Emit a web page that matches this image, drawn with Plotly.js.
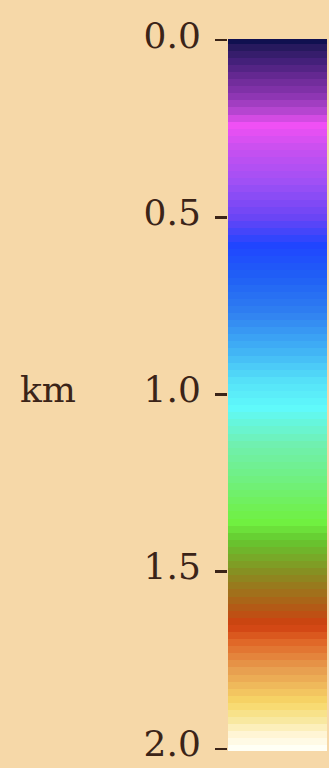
<!DOCTYPE html>
<html>
<head>
<meta charset="utf-8">
<script src="https://cdn.plot.ly/plotly-3.0.1.min.js"></script>
<style>html,body{margin:0;padding:0;background:#F6D8A8;}</style>
</head>
<body>
<div id="chart" style="width:329px;height:768px;"></div>
<script>
// depth levels (km), one band per level
const depthLevels = [
  0.00,0.02,0.04,0.06,0.08,0.10,0.12,0.14,0.16,0.18,
  0.20,0.22,0.24,0.26,0.28,0.30,0.32,0.34,0.36,0.38,
  0.40,0.42,0.44,0.46,0.48,0.50,0.52,0.54,0.56,0.58,
  0.60,0.62,0.64,0.66,0.68,0.70,0.72,0.74,0.76,0.78,
  0.80,0.82,0.84,0.86,0.88,0.90,0.92,0.94,0.96,0.98,
  1.00,1.02,1.04,1.06,1.08,1.10,1.12,1.14,1.16,1.18,
  1.20,1.22,1.24,1.26,1.28,1.30,1.32,1.34,1.36,1.38,
  1.40,1.42,1.44,1.46,1.48,1.50,1.52,1.54,1.56,1.58,
  1.60,1.62,1.64,1.66,1.68,1.70,1.72,1.74,1.76,1.78,
  1.80,1.82,1.84,1.86,1.88,1.90,1.92,1.94,1.96,1.98,
  2.00
];
// colour stops: depth (km) and colour
const stopDepths = [0.0, 0.023, 0.06, 0.108, 0.156, 0.2, 0.24, 0.30, 0.40, 0.50, 0.58, 0.67, 0.77, 0.87, 0.96, 1.04, 1.14, 1.24, 1.36, 1.41, 1.51, 1.61, 1.65, 1.70, 1.78, 1.87, 1.92, 1.96, 2.0];
const stopColors = ['#101050','#2a1a60','#44207a','#6a2a95','#8a35b0','#b545d0','#f050f5','#cc50f0','#a050f5','#6a45f5','#2045ff','#2060f5','#3080f0','#40b0f5','#55e0f8','#60fafa','#70f0b0','#70f080','#70f040','#65c830','#8a8a20','#b85515','#d04010','#e06828','#e8a050','#f8d868','#f8e8a0','#fff5d5','#fffff5'];
const tickValues = [0.0, 0.5, 1.0, 1.5, 2.0];
const tickLabels = ['0.0', '0.5', '1.0', '1.5', '2.0'];
const axisLabel = 'km';

const zmin = 0, zmax = 2;
const colorscale = stopDepths.map((d, i) => [(d - zmin) / (zmax - zmin), stopColors[i]]);
const z = depthLevels.map(d => [d]);

const ink = '#3b2418';
const fontFamily = '"DejaVu Serif", "Liberation Serif", serif';

Plotly.newPlot('chart', [{
  type: 'heatmap',
  x: [0],
  y: depthLevels,
  z: z,
  zmin: zmin, zmax: zmax,
  colorscale: colorscale,
  showscale: false,
  hoverinfo: 'skip'
}], {
  width: 329, height: 768,
  paper_bgcolor: '#F6D8A8',
  plot_bgcolor: '#F6D8A8',
  margin: {l: 228, r: 2, t: 39, b: 17},
  xaxis: {visible: false, fixedrange: true},
  yaxis: {
    range: [2.006, -0.003],
    tickmode: 'array', tickvals: tickValues, ticktext: tickLabels,
    ticks: 'outside', ticklen: 12, tickwidth: 2.5, tickcolor: ink,
    ticklabelstandoff: 7,
    ticklabelshift: 5,
    ticklabeloverflow: 'allow',
    showgrid: false, zeroline: false, showline: false,
    tickfont: {family: fontFamily, size: 36, color: ink}
  },
  annotations: [{
    text: axisLabel, xref: 'paper', yref: 'y', x: -1.82, y: 1.0,
    yshift: 5,
    xanchor: 'center', yanchor: 'middle', showarrow: false,
    font: {family: fontFamily, size: 36, color: ink}
  }]
}, {staticPlot: true});
</script>
</body>
</html>
